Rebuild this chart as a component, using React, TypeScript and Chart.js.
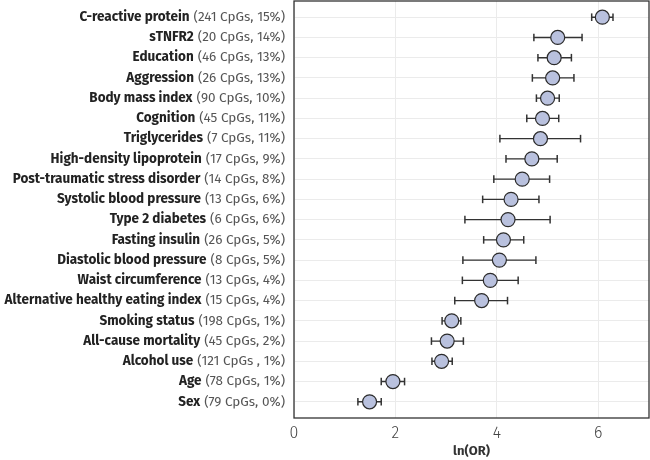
import React, { useEffect, useRef } from "react";
import { Chart, registerables } from "chart.js";

Chart.register(...registerables);

const traitNames = [
  "C-reactive protein", "sTNFR2", "Education", "Aggression", "Body mass index",
  "Cognition", "Triglycerides", "High-density lipoprotein", "Post-traumatic stress disorder",
  "Systolic blood pressure", "Type 2 diabetes", "Fasting insulin", "Diastolic blood pressure",
  "Waist circumference", "Alternative healthy eating index", "Smoking status",
  "All-cause mortality", "Alcohol use", "Age", "Sex",
];
const traitDetails = [
  "(241 CpGs, 15%)", "(20 CpGs, 14%)", "(46 CpGs, 13%)", "(26 CpGs, 13%)", "(90 CpGs, 10%)",
  "(45 CpGs, 11%)", "(7 CpGs, 11%)", "(17 CpGs, 9%)", "(14 CpGs, 8%)",
  "(13 CpGs, 6%)", "(6 CpGs, 6%)", "(26 CpGs, 5%)", "(8 CpGs, 5%)",
  "(13 CpGs, 4%)", "(15 CpGs, 4%)", "(198 CpGs, 1%)",
  "(45 CpGs, 2%)", "(121 CpGs , 1%)", "(78 CpGs, 1%)", "(79 CpGs, 0%)",
];
const lnOR = [6.08, 5.20, 5.13, 5.10, 5.00, 4.90, 4.86, 4.69, 4.50, 4.28, 4.22, 4.13, 4.05, 3.87, 3.70, 3.11, 3.02, 2.91, 1.95, 1.49];
const ciLow = [5.87, 4.73, 4.81, 4.70, 4.78, 4.59, 4.06, 4.18, 3.94, 3.72, 3.37, 3.74, 3.33, 3.32, 3.17, 2.92, 2.71, 2.72, 1.72, 1.26];
const ciHigh = [6.29, 5.68, 5.47, 5.52, 5.23, 5.22, 5.65, 5.19, 5.04, 4.83, 5.05, 4.53, 4.77, 4.42, 4.21, 3.29, 3.34, 3.12, 2.18, 1.72];
const xTicks = [0, 2, 4, 6];

const FONT = "'Fira Sans', Roboto, sans-serif";

export default function App() {
  const ref = useRef<HTMLCanvasElement | null>(null);

  useEffect(() => {
    const canvas = ref.current;
    if (!canvas) return;

    const pointData = lnOR.map((v, i) => ({ x: v, y: i }));
    const whiskerData: any[] = [];
    ciLow.forEach((lo, i) => {
      whiskerData.push({ x: lo, y: i });
      whiskerData.push({ x: ciHigh[i], y: i });
      whiskerData.push({ x: ciHigh[i], y: null });
    });
    const capData = [
      ...ciLow.map((v, i) => ({ x: v, y: i })),
      ...ciHigh.map((v, i) => ({ x: v, y: i })),
    ];

    const labelPlugin = {
      id: "labels",
      afterDraw(chart: any) {
        const ctx = chart.ctx;
        const ys = chart.scales.y;
        const area = chart.chartArea;
        ctx.save();
        ctx.textBaseline = "middle";
        const right = area.left - 9;
        traitNames.forEach((name, i) => {
          const y = ys.getPixelForValue(i);
          ctx.font = `400 13.5px ${FONT}`;
          const det = traitDetails[i];
          const wDet = ctx.measureText(det).width;
          ctx.fillStyle = "#555555";
          ctx.textAlign = "right";
          ctx.fillText(det, right, y);
          ctx.font = `700 13.5px ${FONT}`;
          ctx.fillStyle = "#222222";
          ctx.fillText(name, right - wDet - 4, y);
        });
        ctx.strokeStyle = "#333333";
        ctx.lineWidth = 1.3;
        ctx.strokeRect(area.left, area.top, area.right - area.left, area.bottom - area.top);
        ctx.restore();
      },
    };

    const chart = new Chart(canvas, {
      type: "scatter",
      data: {
        datasets: [
          {
            label: "ln(OR)",
            data: pointData,
            pointRadius: 7,
            pointHoverRadius: 7,
            pointBackgroundColor: "#b9c1de",
            pointBorderColor: "#2b2b2b",
            pointBorderWidth: 1.2,
            showLine: false,
          },
          {
            label: "caps",
            data: capData,
            pointStyle: "line",
            rotation: 90,
            pointRadius: 3.8,
            pointBorderColor: "#333333",
            pointBorderWidth: 1.5,
            showLine: false,
          } as any,
          {
            label: "CI",
            data: whiskerData,
            showLine: true,
            spanGaps: false,
            borderColor: "#333333",
            borderWidth: 1.4,
            pointRadius: 0,
          } as any,
        ],
      },
      options: {
        animation: false,
        responsive: false,
        events: [],
        layout: { autoPadding: false, padding: { left: 0, top: 1, right: 1, bottom: 0 } },
        plugins: { legend: { display: false }, tooltip: { enabled: false } },
        scales: {
          x: {
            type: "linear",
            min: 0,
            max: 7,
            afterBuildTicks: (scale: any) => {
              scale.ticks = xTicks.map((v) => ({ value: v }));
            },
            afterFit: (scale: any) => {
              scale.height = 42;
            },
            grid: { color: "#ebebeb", lineWidth: 1, drawTicks: false },
            border: { display: false },
            ticks: {
              padding: 6,
              color: "#444444",
              font: { family: FONT, size: 16, weight: "300" as any },
            },
            title: {
              display: true,
              text: "ln(OR)",
              color: "#333333",
              padding: { top: 0, bottom: 1 },
              font: { family: FONT, size: 13, weight: "bold" as any },
            },
          },
          y: {
            type: "linear",
            reverse: true,
            min: -0.8,
            max: 19.8,
            afterBuildTicks: (scale: any) => {
              scale.ticks = traitNames.map((_, i) => ({ value: i }));
            },
            afterFit: (scale: any) => {
              scale.width = 294;
            },
            grid: { color: "#ebebeb", lineWidth: 1, drawTicks: false },
            border: { display: false },
            ticks: { display: false },
          },
        },
      },
      plugins: [labelPlugin],
    });

    return () => chart.destroy();
  }, []);

  return (
    <div style={{ position: "fixed", left: 0, top: 0, width: 650, height: 460, background: "#ffffff" }}>
      <canvas ref={ref} width={650} height={460} style={{ display: "block" }} />
    </div>
  );
}
